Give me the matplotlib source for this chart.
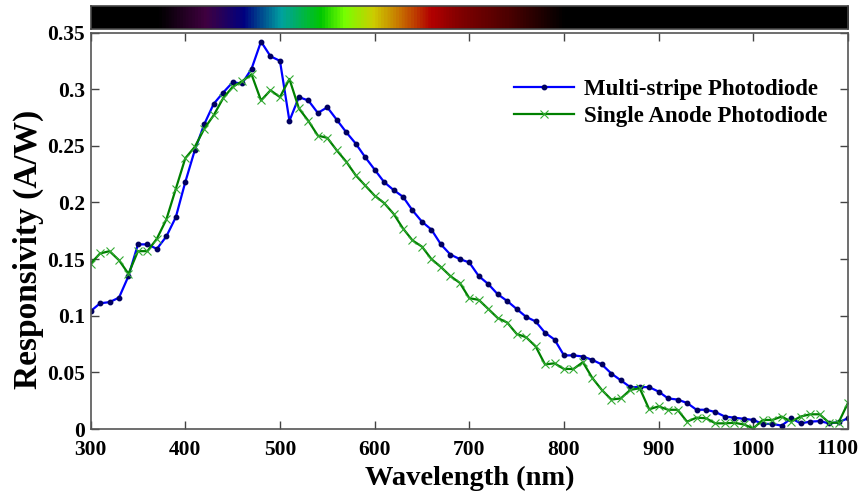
import matplotlib
matplotlib.use('Agg')
import matplotlib.pyplot as plt
import numpy as np
from matplotlib.colors import LinearSegmentedColormap
from matplotlib.ticker import FuncFormatter

# данные
wavelength = list(range(300, 1101, 10))  # нм

multi_stripe = [0.104, 0.111, 0.112, 0.116, 0.135, 0.163, 0.163, 0.159, 0.170, 0.187,
                0.218, 0.246, 0.269, 0.287, 0.297, 0.306, 0.305, 0.318, 0.342, 0.329,
                0.325, 0.272, 0.293, 0.290, 0.279, 0.284, 0.273, 0.262, 0.252, 0.240,
                0.229, 0.218, 0.211, 0.205, 0.193, 0.183, 0.176, 0.163, 0.154, 0.150,
                0.147, 0.135, 0.128, 0.119, 0.113, 0.106, 0.099, 0.095, 0.085, 0.079,
                0.065, 0.065, 0.064, 0.061, 0.057, 0.049, 0.043, 0.037, 0.037, 0.037,
                0.033, 0.027, 0.026, 0.023, 0.017, 0.017, 0.015, 0.011, 0.010, 0.009,
                0.008, 0.0045, 0.0045, 0.003, 0.0095, 0.005, 0.0065, 0.007, 0.005, 0.006,
                0.0095]

single_anode = [0.146, 0.155, 0.157, 0.149, 0.137, 0.157, 0.157, 0.168, 0.185, 0.212,
                0.239, 0.249, 0.265, 0.277, 0.292, 0.302, 0.307, 0.313, 0.290, 0.299,
                0.293, 0.309, 0.283, 0.272, 0.259, 0.257, 0.246, 0.236, 0.224, 0.215,
                0.206, 0.1995, 0.190, 0.177, 0.1665, 0.161, 0.150, 0.143, 0.135, 0.129,
                0.1155, 0.114, 0.106, 0.098, 0.094, 0.084, 0.081, 0.073, 0.057, 0.058,
                0.053, 0.053, 0.059, 0.045, 0.0345, 0.026, 0.027, 0.0345, 0.036, 0.0174,
                0.020, 0.017, 0.017, 0.0065, 0.010, 0.0095, 0.005, 0.005, 0.0055, 0.004,
                0.0006, 0.008, 0.008, 0.011, 0.0065, 0.011, 0.013, 0.013, 0.0056, 0.0056,
                0.023]

x_ticks = [300, 400, 500, 600, 700, 800, 900, 1000, 1100]
y_ticks = [0, 0.05, 0.1, 0.15, 0.2, 0.25, 0.3, 0.35]

# цвета полосы спектра (нм -> цвет)
spec_nm = [300, 370, 420, 460, 500, 542, 567, 598, 627, 659, 690, 740, 800, 1100]
spec_colors = [(0, 0, 0), (0, 0, 0), (0.25, 0.0, 0.25), (0.0, 0.0, 0.5), (0.0, 0.63, 0.63),
               (0.0, 0.78, 0.0), (0.47, 1.0, 0.0), (0.8, 0.8, 0.0), (0.78, 0.43, 0.0),
               (0.7, 0.0, 0.0), (0.5, 0.0, 0.0), (0.3, 0.0, 0.0), (0, 0, 0), (0, 0, 0)]

plt.rcParams['font.family'] = 'Liberation Serif'
plt.rcParams['font.weight'] = 'bold'

fig = plt.figure(figsize=(8.63, 4.95), dpi=100)
ax = fig.add_axes([0.105, 0.1333, 0.8776, 0.801])

ax.plot(wavelength, multi_stripe, '-', color='#0000ff', lw=1.6, marker='o', markersize=3.2,
        markerfacecolor='#000060', markeredgecolor='#000060', label='Multi-stripe Photodiode')
ax.plot(wavelength, single_anode, '-', color='#008000', lw=1.6, marker='x', markersize=6,
        markeredgecolor='#33aa33', markeredgewidth=0.8, label='Single Anode Photodiode')

ax.set_xlim(300, 1100)
ax.set_ylim(0, 0.35)
ax.set_xticks(x_ticks)
ax.set_yticks(y_ticks)
# последнюю метку (1100) ставим отдельно, чтобы не обрезалась
ax.set_xticklabels([str(v) for v in x_ticks[:-1]] + [''])
ax.yaxis.set_major_formatter(FuncFormatter(lambda v, p: '%g' % v))
ax.tick_params(direction='in', top=True, right=True, length=6, width=1, color='#444444',
               labelsize=15.5, pad=4)
ax.tick_params(axis='x', pad=8)
for lbl in ax.get_xticklabels() + ax.get_yticklabels():
    lbl.set_fontweight('bold')
ax.annotate(str(x_ticks[-1]), xy=(x_ticks[-1], 0), xycoords=('data', 'axes fraction'),
            xytext=(-8, -7), textcoords='offset points', ha='center', va='top',
            fontsize=15.5, fontweight='bold')
for s in ax.spines.values():
    s.set_color('#555555')
    s.set_linewidth(1.2)

ax.set_xlabel('Wavelength (nm)', fontsize=20.5, fontweight='bold', labelpad=4)
ax.set_ylabel('Responsivity (A/W)', fontsize=24, fontweight='bold')
ax.yaxis.set_label_coords(-0.062, 0.452)

leg = ax.legend(loc='upper right', frameon=False, fontsize=16.5, handlelength=2.6,
                bbox_to_anchor=(1.0, 0.935), labelspacing=0.25, handletextpad=0.45)
for t in leg.get_texts():
    t.set_fontweight('bold')

# полоса спектра сверху
cax = fig.add_axes([0.105, 0.9424, 0.8776, 0.0445])
pos = [(n - 300) / 800.0 for n in spec_nm]
cmap = LinearSegmentedColormap.from_list('spec', list(zip(pos, spec_colors)))
grad = np.linspace(0, 1, 800).reshape(1, -1)
cax.imshow(grad, aspect='auto', cmap=cmap, extent=[300, 1100, 0, 1])
cax.set_xticks([])
cax.set_yticks([])
for s in cax.spines.values():
    s.set_color('#444444')
    s.set_linewidth(1.2)

fig.savefig('out.png', dpi=100)
